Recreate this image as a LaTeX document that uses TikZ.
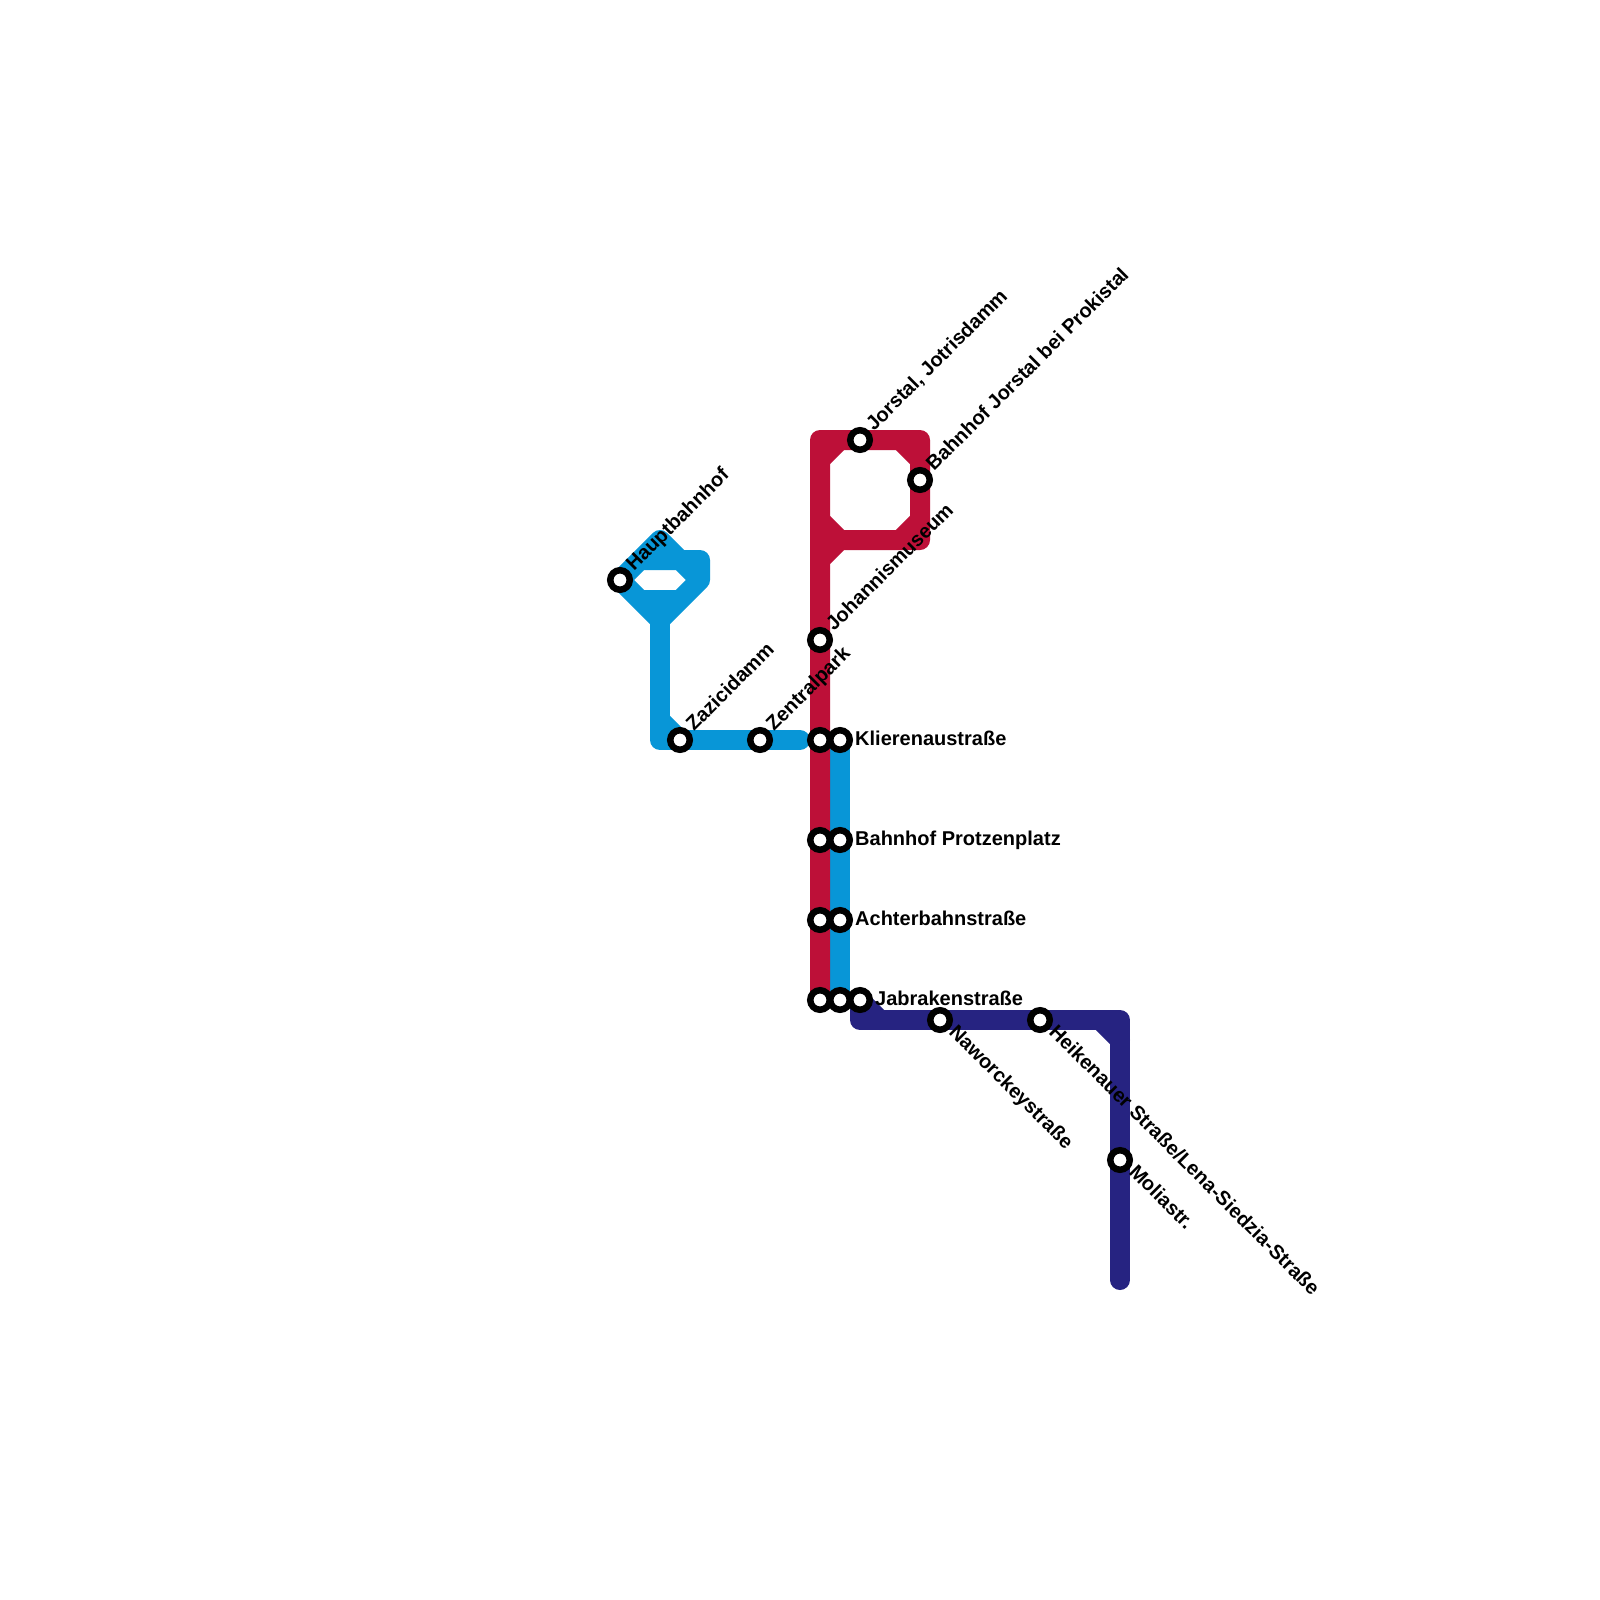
\documentclass[tikz,border=0pt]{standalone}
\usepackage{fontspec}
\setmainfont{Liberation Sans}
\definecolor{redl}{HTML}{BD1038}
\definecolor{bluel}{HTML}{0896D7}
\definecolor{darkl}{HTML}{262381}
\tikzset{
  metro/.style={line width=20pt,line cap=round,line join=round},
  stn/.style={circle,draw=black,fill=white,line width=6.5pt,minimum size=19.5pt,inner sep=0pt,outer sep=0pt},
  lab/.style={font=\bfseries\fontsize{20}{22}\selectfont,inner sep=0pt,text=black,anchor=base west},
  ne/.style={lab,rotate=45},
  se/.style={lab,rotate=-45}
}
\begin{document}
\begin{tikzpicture}[x=1pt,y=-1pt]
\useasboundingbox (0,0) rectangle (1600,1600);
\fill[white] (0,0) rectangle (1600,1600);
% blue junctions
\coordinate (hb) at (620,580);
\coordinate (b1) at (660,540);
\coordinate (b2) at (680,560);
\coordinate (b3) at (700,560);
\coordinate (b4) at (700,580);
\coordinate (b5) at (660,620);
\coordinate (b6) at (640,560);
\coordinate (b7) at (640,600);
\coordinate (b8) at (680,600);
\coordinate (b9) at (660,720);
\coordinate (b10) at (660,740);
\coordinate (za) at (680,740);
\coordinate (ze) at (760,740);
\coordinate (b11) at (800,740);
\coordinate (k2) at (840,740);
\coordinate (p2) at (840,840);
\coordinate (a2) at (840,920);
\coordinate (j2) at (840,1000);
% red junctions
\coordinate (r0) at (820,440);
\coordinate (r1) at (820,460);
\coordinate (r2) at (840,440);
\coordinate (jo) at (860,440);
\coordinate (r3) at (900,440);
\coordinate (r4) at (920,440);
\coordinate (r5) at (920,460);
\coordinate (bj) at (920,480);
\coordinate (r6) at (920,520);
\coordinate (r7) at (920,540);
\coordinate (r8) at (900,540);
\coordinate (r9) at (840,540);
\coordinate (r10) at (820,520);
\coordinate (r11) at (820,560);
\coordinate (jm) at (820,640);
\coordinate (k1) at (820,740);
\coordinate (p1) at (820,840);
\coordinate (a1) at (820,920);
\coordinate (j1) at (820,1000);
% dark junctions
\coordinate (j3) at (860,1000);
\coordinate (d1) at (860,1020);
\coordinate (d2) at (880,1020);
\coordinate (na) at (940,1020);
\coordinate (he) at (1040,1020);
\coordinate (d3) at (1100,1020);
\coordinate (d4) at (1120,1020);
\coordinate (d5) at (1120,1040);
\coordinate (mo) at (1120,1160);
\coordinate (d6) at (1120,1280);
% lines
\draw[metro,bluel] (hb)--(b1)--(b2)--(b3)--(b4)--(b5)--(b7)--(hb)--(b6)--(b2)--(b4)--(b8)--(b7);
\draw[metro,bluel] (b5)--(b10)--(za)--(ze)--(b11);
\draw[metro,bluel] (b9)--(za);
\draw[metro,bluel] (k2)--(p2)--(a2)--(j2);
\draw[metro,redl] (j1)--(a1)--(p1)--(k1)--(jm)--(r0)--(jo)--(r4)--(bj)--(r7)--(r9)--(r11);
\draw[metro,redl] (r1)--(r2);
\draw[metro,redl] (r3)--(r5);
\draw[metro,redl] (r6)--(r8);
\draw[metro,redl] (r10)--(r9);
\draw[metro,darkl] (j3)--(d1)--(na)--(he)--(d4)--(mo)--(d6);
\draw[metro,darkl] (j3)--(d2);
\draw[metro,darkl] (d3)--(d5);
% stations
\foreach \s in {hb,za,ze,jm,k1,k2,p1,p2,a1,a2,j1,j2,j3,jo,bj,na,he,mo}
  \node[stn] (s\s) at (\s) {};
% labels
\node[ne] (lhb) at ([xshift=14pt,yshift=8pt]hb) {Hauptbahnhof};
\node[ne] (lza) at ([xshift=14pt,yshift=8pt]za) {Zazicidamm};
\node[ne] (lze) at ([xshift=14pt,yshift=8pt]ze) {Zentralpark};
\node[ne] (ljm) at ([xshift=14pt,yshift=8pt]jm) {Johannismuseum};
\node[ne] (ljo) at ([xshift=14pt,yshift=8pt]jo) {Jorstal, Jotrisdamm};
\node[ne] (lbj) at ([xshift=14pt,yshift=8pt]bj) {Bahnhof Jorstal bei Prokistal};
\node[lab] (lk) at ([xshift=15pt,yshift=-5pt]k2) {Klierenaustraße};
\node[lab] (lp) at ([xshift=15pt,yshift=-5pt]p2) {Bahnhof Protzenplatz};
\node[lab] (la) at ([xshift=15pt,yshift=-5pt]a2) {Achterbahnstraße};
\node[lab] (lj) at ([xshift=15pt,yshift=-5pt]j3) {Jabrakenstraße};
\node[se] (lna) at ([xshift=8pt,yshift=-13pt]na) {Naworckeystraße};
\node[se] (lhe) at ([xshift=8pt,yshift=-13pt]he) {Heikenauer Straße/Lena-Siedzia-Straße};
\node[se] (lmo) at ([xshift=8pt,yshift=-13pt]mo) {Moliastr.};
\end{tikzpicture}
\end{document}
